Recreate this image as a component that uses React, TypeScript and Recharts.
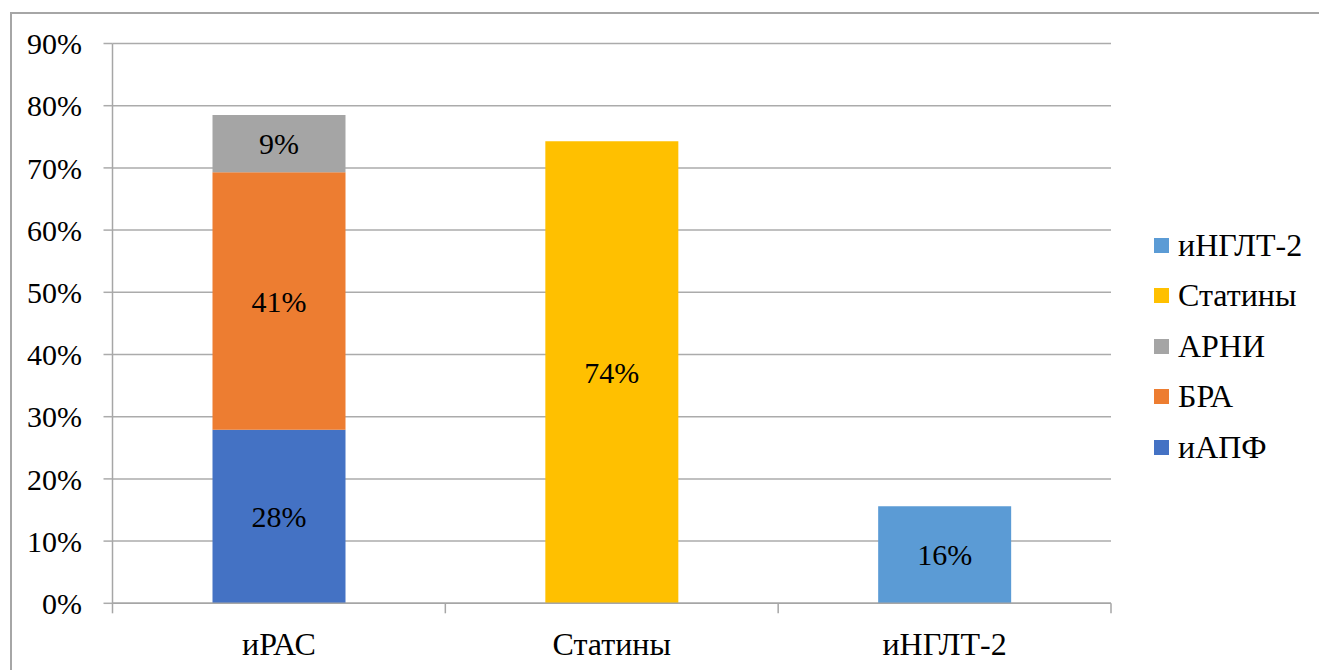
import React from "react";
import { BarChart, Bar, XAxis, YAxis, CartesianGrid, LabelList } from "recharts";

const categories = ["иРАС", "Статины", "иНГЛТ-2"];
const seriesNames = ["иАПФ", "БРА", "АРНИ", "Статины", "иНГЛТ-2"];
const iapf = [27.9, null, null];
const bra = [41.4, null, null];
const arni = [9.2, null, null];
const statins = [null, 74.3, null];
const ingl = [null, null, 15.6];
const seriesValues = [iapf, bra, arni, statins, ingl];
const colors = ["#4472C4", "#ED7D31", "#A5A5A5", "#FFC000", "#5B9BD5"];
const yTicks = [0, 10, 20, 30, 40, 50, 60, 70, 80, 90];

const data = categories.map((c, i) => {
  const row: any = { name: c };
  seriesNames.forEach((s, k) => {
    row[s] = seriesValues[k][i];
  });
  return row;
});

const FONT = "Liberation Serif";
const FS = 30;
const FS_TEXT = 32;
const TICK_MARGIN_X = 29;

const fmtLabel = (v: any) => (v == null ? "" : `${Math.round(Number(v))}%`);

const XTick = (props: any) => {
  const { x, y, payload, index } = props;
  const half = payload && payload.offset ? payload.offset : 0;
  const axisY = y - TICK_MARGIN_X;
  return (
    <g>
      <line x1={x - half} x2={x - half} y1={axisY} y2={axisY + 10} stroke="#a6a6a6" strokeWidth={1.5} />
      {index === categories.length - 1 && (
        <line x1={x + half} x2={x + half} y1={axisY} y2={axisY + 10} stroke="#a6a6a6" strokeWidth={1.5} />
      )}
      <text x={x} y={y} dy="0.71em" textAnchor="middle" fontFamily={FONT} fontSize={FS_TEXT} fill="#000">
        {payload.value}
      </text>
    </g>
  );
};

export default function App() {
  const legendOrder = [...seriesNames].map((n, i) => ({ n, c: colors[i] })).reverse();
  return (
    <div style={{ position: "absolute", left: 0, top: 0, width: 1319, height: 670, overflow: "hidden", background: "#fff", fontFamily: FONT }}>
      <div
        style={{
          position: "absolute",
          left: 10,
          top: 12,
          width: 1400,
          height: 800,
          borderLeft: "2px solid #a6a6a6",
          borderTop: "2px solid #a6a6a6",
          boxSizing: "border-box",
        }}
      />
      <div style={{ position: "absolute", left: 0, top: 0 }}>
        <BarChart
          width={1319}
          height={670}
          data={data}
          margin={{ top: 43.5, right: 208, bottom: 26.7, left: 0 }}
          barCategoryGap={0}
          style={{ fontFamily: FONT }}
        >
          <CartesianGrid vertical={false} stroke="#ababab" strokeWidth={1.5} />
          <XAxis
            dataKey="name"
            height={40}
            axisLine={{ stroke: "#a6a6a6", strokeWidth: 1.5 }}
            tickLine={false}
            tickSize={0}
            tickMargin={TICK_MARGIN_X}
            tick={<XTick />}
            interval={0}
          />
          <YAxis
            width={112.5}
            domain={[0, 90]}
            ticks={yTicks}
            tickFormatter={(v: number) => `${v}%`}
            axisLine={{ stroke: "#a6a6a6", strokeWidth: 1.5 }}
            tickLine={{ stroke: "#ababab", strokeWidth: 1.5 }}
            tickSize={9}
            tickMargin={21.5}
            tick={{ fontFamily: FONT, fontSize: FS, fill: "#000" }}
            allowDataOverflow
          />
          {seriesNames.map((s, i) => (
            <Bar key={s} dataKey={s} stackId="a" fill={colors[i]} barSize={133} isAnimationActive={false}>
              <LabelList
                dataKey={s}
                position="center"
                formatter={fmtLabel}
                fontFamily={FONT}
                fontSize={FS}
                fill="#000"
              />
            </Bar>
          ))}
        </BarChart>
      </div>
      {legendOrder.map((item, i) => (
        <div
          key={item.n}
          style={{
            position: "absolute",
            left: 1154,
            top: 245 + i * 50.5 - 20,
            height: 40,
            display: "flex",
            alignItems: "center",
            fontFamily: FONT,
            fontSize: FS_TEXT,
            color: "#000",
            whiteSpace: "nowrap",
          }}
        >
          <span style={{ display: "inline-block", width: 15, height: 15, background: item.c, marginRight: 9 }} />
          <span>{item.n}</span>
        </div>
      ))}
    </div>
  );
}
